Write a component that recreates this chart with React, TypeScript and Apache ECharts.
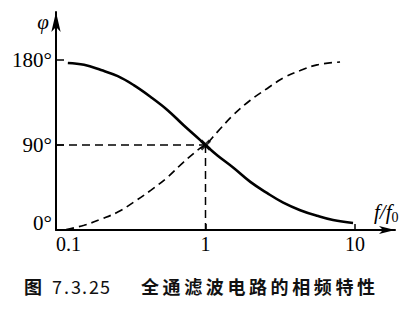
import React, { useEffect, useRef } from "react";
import * as echarts from "echarts";

const solidF = [0.12, 0.154, 0.2, 0.259, 0.331, 0.43, 0.558, 0.714, 0.926, 1, 1.202, 1.537, 1.995, 2.59, 3.31, 4.3, 5.58, 7.13, 9.7];
const solidPhi = [177, 175, 169.5, 163, 153.5, 141, 127, 111, 95, 90, 79, 66, 51, 39, 29, 21, 15, 10.5, 7.5];
const dashedF = [0.117, 0.154, 0.2, 0.259, 0.331, 0.43, 0.558, 0.714, 0.926, 1, 1.202, 1.537, 1.995, 2.59, 3.31, 4.3, 5.58, 7.94];
const dashedPhi = [0.5, 5, 11.5, 19, 29.5, 42, 56, 72, 87, 90, 104, 122, 137.5, 150, 161, 169, 175, 178];
const xTicks = [0.1, 1, 10];
const yTicks = [0, 90, 180];
const yTickLabels = ["0°", "90°", "180°"];
const crossF = 1;
const crossPhi = 90;
const captionFig = "图";
const captionNum = "7.3.25";
const captionTitle = "全通滤波电路的相频特性";

const serif = "Liberation Serif, DejaVu Serif, serif";
const cjk = "Noto Sans CJK SC";

export default function App() {
  const ref = useRef<HTMLDivElement>(null);
  useEffect(() => {
    if (!ref.current) return;
    const chart = echarts.init(ref.current, undefined, { renderer: "svg" });
    const numX = [52, 64, 71, 82, 89, 100];
    const capStyle = { fontSize: 18, fontFamily: cjk, fontWeight: "bold", fill: "#111", verticalAlign: "middle" };
    const caption: any[] = [
      { type: "text", x: 24, y: 286, style: { ...capStyle, text: captionFig } },
      ...captionNum.split("").map((c, i) => ({
        type: "text", x: numX[i], y: 286, style: { ...capStyle, text: c, fontWeight: "normal" },
      })),
      ...captionTitle.split("").map((c, i) => ({
        type: "text", x: 141 + i * 21.6, y: 286, style: { ...capStyle, text: c },
      })),
    ];
    chart.setOption({
      animation: false,
      backgroundColor: "#fff",
      grid: [
        { left: 56, right: 63, top: 12, bottom: 79 },
        { left: 56, right: 23, top: 12, bottom: 79 },
      ],
      xAxis: [
        {
          type: "log", gridIndex: 0, min: 0.1, max: 10, logBase: 10,
          axisLine: { show: false },
          axisTick: { show: true, inside: true, length: 6, customValues: xTicks, lineStyle: { color: "#000", width: 1.5 } },
          splitLine: { show: false },
          axisLabel: {
            customValues: xTicks, margin: 4, color: "#000", fontSize: 20, fontFamily: serif,
            formatter: (v: number) => (Math.abs(v - 0.1) < 1e-6 ? "{a|0.1}" : String(Math.round(v))),
            rich: { a: { fontSize: 20, fontFamily: serif, color: "#000", padding: [0, 0, 0, 25] } },
          },
        },
        {
          type: "value", gridIndex: 1, min: 0, max: 1,
          axisLine: { show: true, symbol: ["none", "arrow"], symbolSize: [6, 16], lineStyle: { color: "#000", width: 2 } },
          axisTick: { show: false }, axisLabel: { show: false }, splitLine: { show: false },
        },
      ],
      yAxis: [
        {
          type: "value", gridIndex: 0, min: 0, max: 231, interval: 90,
          axisLine: { show: true, symbol: ["none", "arrow"], symbolSize: [7, 20], lineStyle: { color: "#000", width: 2 } },
          axisTick: { show: true, inside: true, length: 8, customValues: yTicks, lineStyle: { color: "#000", width: 1.5 } },
          splitLine: { show: false },
          axisLabel: {
            customValues: yTicks, margin: 4, color: "#000", fontSize: 21, fontFamily: serif,
            formatter: (v: number) => {
              const i = yTicks.indexOf(Math.round(v));
              if (i < 0) return "";
              return v === 0 ? `{z|${yTickLabels[i]}}` : yTickLabels[i];
            },
            rich: { z: { fontSize: 21, fontFamily: serif, color: "#000", padding: [0, 0, 14, 0] } },
          },
        },
        { type: "value", gridIndex: 1, min: 0, max: 1, show: false },
      ],
      series: [
        {
          type: "line", xAxisIndex: 0, yAxisIndex: 0, smooth: 0.4, symbol: "none",
          lineStyle: { color: "#000", width: 2.6 },
          data: solidF.map((f, i) => [f, solidPhi[i]]),
        },
        {
          type: "line", xAxisIndex: 0, yAxisIndex: 0, smooth: 0.4, symbol: "none",
          lineStyle: { color: "#000", width: 1.7, type: [8, 5] },
          data: dashedF.map((f, i) => [f, dashedPhi[i]]),
        },
        {
          type: "line", xAxisIndex: 0, yAxisIndex: 0, symbol: "none",
          lineStyle: { color: "#000", width: 1.5, type: [8, 5] },
          data: [[xTicks[0], crossPhi], [crossF, crossPhi]],
        },
        {
          type: "line", xAxisIndex: 0, yAxisIndex: 0, symbol: "none",
          lineStyle: { color: "#000", width: 1.5, type: [8, 5] },
          data: [[crossF, crossPhi], [crossF, yTicks[0]]],
        },
        {
          type: "scatter", xAxisIndex: 0, yAxisIndex: 0, symbolSize: 11,
          symbol: "path://M2,0 L5,3 L8,0 L10,2 L7,5 L10,8 L8,10 L5,7 L2,10 L0,8 L3,5 L0,2 Z",
          itemStyle: { color: "#000" },
          data: [[crossF, crossPhi]],
        },
      ],
      graphic: [
        { type: "text", x: 43, y: 22, style: { text: "φ", fontSize: 21, fontStyle: "italic", fontFamily: serif, fill: "#000", align: "center", verticalAlign: "middle" } },
        {
          type: "text", x: 374, y: 212,
          style: {
            text: "{i|f/f}{s|0}", verticalAlign: "middle",
            rich: {
              i: { fontSize: 21, fontStyle: "italic", fontFamily: serif, fill: "#000" },
              s: { fontSize: 14, fontFamily: serif, fill: "#000", padding: [10, 0, 0, 0] },
            },
          },
        },
        ...caption,
      ],
    });
    return () => chart.dispose();
  }, []);
  return <div ref={ref} style={{ position: "fixed", left: 0, top: 0, width: 418, height: 309 }} />;
}
